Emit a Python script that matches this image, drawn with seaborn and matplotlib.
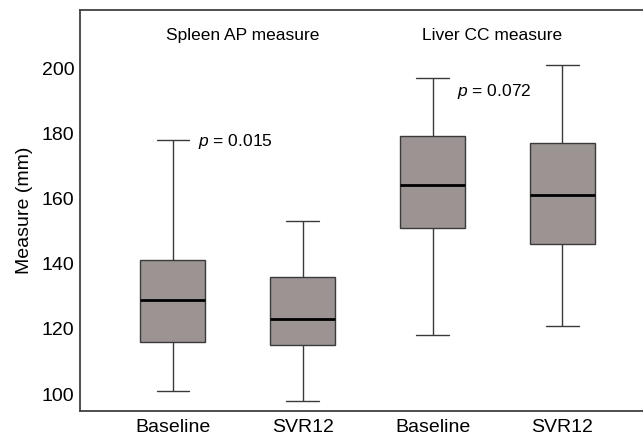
import matplotlib
matplotlib.use("Agg")
import matplotlib.pyplot as plt
import seaborn as sns
import pandas as pd

# five-number summaries: min, Q1, median, Q3, max
groups = ["Spleen Baseline", "Spleen SVR12", "Liver Baseline", "Liver SVR12"]
tick_labels = ["Baseline", "SVR12", "Baseline", "SVR12"]
spleen_baseline = [101, 116, 129, 141, 178]
spleen_svr12 = [98, 115, 123, 136, 153]
liver_baseline = [118, 151, 164, 179, 197]
liver_svr12 = [121, 146, 161, 177, 201]
panel_titles = ["Spleen AP measure", "Liver CC measure"]
p_values = ["0.015", "0.072"]

rows = []
for g, vals in zip(groups, [spleen_baseline, spleen_svr12, liver_baseline, liver_svr12]):
    for v in vals:
        rows.append((g, v))
df = pd.DataFrame(rows, columns=["group", "measure"])

sns.set_style("white")
plt.rcParams["font.family"] = ["Liberation Sans", "DejaVu Sans"]
plt.rcParams["text.color"] = "black"
plt.rcParams["axes.labelcolor"] = "black"
plt.rcParams["mathtext.fontset"] = "custom"
plt.rcParams["mathtext.it"] = "Liberation Sans:italic"
plt.rcParams["mathtext.rm"] = "Liberation Sans"

fig = plt.figure(figsize=(6.43, 4.38), dpi=100)
ax = fig.add_axes([80 / 643, 27 / 438, 1 - 80 / 643, 401 / 438])

sns.boxplot(data=df, x="group", y="measure", order=groups, ax=ax,
            width=0.5, color="#9b9493", saturation=1, linecolor="#3a3a3a",
            linewidth=1.0, whis=(0, 100), capwidths=0.25,
            medianprops=dict(color="black", linewidth=2.0))

ax.set_xlim(-0.715, 3.62)
ax.set_ylim(94.8, 217.8)
ax.set_yticks([100, 120, 140, 160, 180, 200])
ax.set_xticks(range(4))
ax.set_xticklabels(tick_labels)
ax.tick_params(axis="both", length=0, labelsize=14, colors="black")
ax.tick_params(axis="y", pad=4)
ax.tick_params(axis="x", pad=6)
ax.set_xlabel("")
ax.set_ylabel("Measure (mm)", fontsize=14, labelpad=6, color="black")

for side in ["left", "top", "bottom"]:
    ax.spines[side].set_color("#404040")
    ax.spines[side].set_linewidth(1.3)
ax.spines["right"].set_visible(False)

ax.text(0.54, 210.1, panel_titles[0], ha="center", va="center", fontsize=12.5, color="black")
ax.text(2.46, 210.1, panel_titles[1], ha="center", va="center", fontsize=12.5, color="black")
ax.text(0.19, 177.4, r"$p$" + " = " + p_values[0], ha="left", va="center", fontsize=12.5, color="black")
ax.text(2.19, 192.7, r"$p$" + " = " + p_values[1], ha="left", va="center", fontsize=12.5, color="black")

fig.savefig("out.png", dpi=100)
